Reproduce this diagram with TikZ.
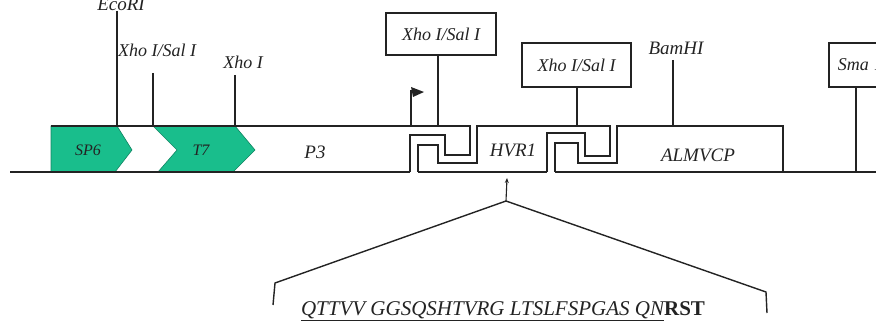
\documentclass[tikz,border=0pt]{standalone}
\usepackage{fontspec}
\setmainfont{Liberation Serif}
\usetikzlibrary{arrows.meta}
\definecolor{gr}{RGB}{25,190,140}
\definecolor{ink}{RGB}{35,35,35}
\begin{document}
\begin{tikzpicture}[x=1pt,y=-1pt,
  lbl/.style={font=\fontsize{19}{21}\selectfont\itshape, inner sep=0pt, text=ink},
  site/.style={lbl, font=\fontsize{18}{20}\selectfont\itshape},
  small/.style={lbl, font=\fontsize{16}{18}\selectfont\itshape},
  boxlbl/.style={site, draw=ink, line width=1.6pt, minimum height=42pt},
  outl/.style={draw=ink, line width=1.4pt},
  base/.style={draw=ink, line width=2pt},
  tick/.style={draw=ink, line width=1.1pt},
  thick tick/.style={draw=ink, line width=2.2pt},
  prom/.style={fill=gr, draw=gr!70!black, line width=0.6pt},
  brace/.style={draw=ink, line width=1.4pt}]
\useasboundingbox (0,0) rectangle (876,323);
\clip (0,0) rectangle (876,323);

% promoters
\path[prom] (51,126) -- (117,126) -- (132,150) -- (115,172) -- (51,172) -- cycle;
\path[prom] (153,126) -- (235,126) -- (255,150) -- (233,172) -- (158,172) -- (177,150) -- cycle;

% baseline
\draw[base] (10,172) -- (410,172);
\draw[base] (418,172) -- (547,172);
\draw[base] (555,172) -- (876,172);

% construct outline with double-line junctions
\draw[outl] (51,126) -- (470,126) -- (470,155) -- (445,155) -- (445,135) -- (410,135) -- (410,172);
\draw[outl] (418,172) -- (418,145) -- (438,145) -- (438,163) -- (477,163) -- (477,126)
  -- (610,126) -- (610,156) -- (585,156) -- (585,133) -- (547,133) -- (547,172);
\draw[outl] (555,172) -- (555,143) -- (578,143) -- (578,163) -- (617,163) -- (617,126)
  -- (783,126) -- (783,172);

% element labels
\node[small] (sp6) at (88,150) {SP6};
\node[small] (t7) at (201,150) {T7};
\node[lbl] (p3) at (315,152) {P3};
\node[lbl] (hvr) at (513,150) {HVR1};
\node[lbl] (almv) at (698,155) {ALMVCP};

% site positions on the construct
\coordinate (s0) at (117,126);
\coordinate (s1) at (153,126);
\coordinate (s2) at (235,126);
\coordinate (sp) at (411,126);
\coordinate (s3) at (438,126);
\coordinate (s4) at (577,126);
\coordinate (s5) at (673,126);
\coordinate (s6) at (856,172);

% restriction site labels
\node[lbl, anchor=south] (l0) at (121,11) {EcoRI};
\node[site] (l1) at (157,50) {Xho I/Sal I};
\node[site] (l2) at (243,62) {Xho I};
\node[lbl] (l5) at (676,48) {BamHI};
\node[boxlbl, minimum width=110pt] (b1) at (441,34) {Xho I/Sal I};
\node[boxlbl, minimum width=109pt, minimum height=44pt] (b2) at (576.5,65) {Xho I/Sal I};
\node[boxlbl, minimum width=80pt, minimum height=44pt, anchor=west, align=left, text width=74pt] (b3) at (828,65) {\ Sma I};

\draw[tick] (s0 |- l0.south) -- (s0);
\draw[thick tick] (s1) ++(0,-53) -- (s1);
\draw[tick] (s2) ++(0,-51) -- (s2);
\draw[tick] (b1.south -| s3) -- (s3);
\draw[tick] (b2.south -| s4) -- (s4);
\draw[tick] (s5) ++(0,-66) -- (s5);
\draw[thick tick] (b3.south -| s6) -- (s6);

% promoter flag
\coordinate (fl) at (411,90);
\draw[tick] (sp) -- (fl);
\fill[ink] (411,87) -- (424,92) -- (413,97) -- cycle;

% HVR1 sequence callout
\coordinate (apex) at (506,201);
\coordinate (up) at (507,178);
\draw[tick, -{Stealth[length=5pt,width=4pt]}] (apex) -- (up);
\draw[brace] (273,305) -- (275,283) -- (apex) -- (766,292) -- (767,313);
\node[inner sep=0pt, text=ink, font=\fontsize{21}{24}\selectfont] (seq) at (503,311)
  {\underline{\itshape QTTVV GGSQSHTVRG LTSLFSPGAS QN}\textbf{RST}};
\end{tikzpicture}
\end{document}
